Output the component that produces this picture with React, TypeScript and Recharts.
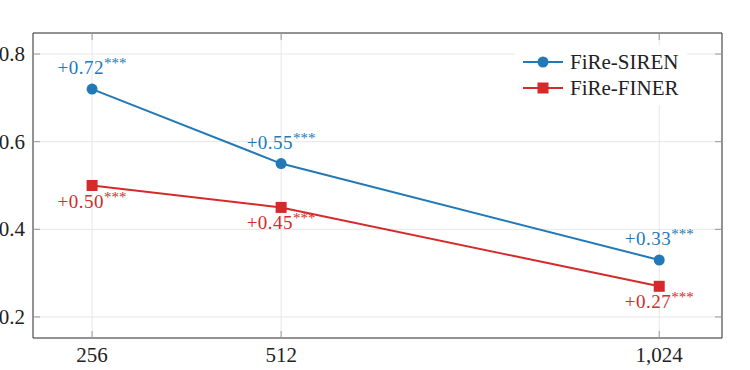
import React from 'react';
import { LineChart, Line, XAxis, YAxis, CartesianGrid, Legend, LabelList } from 'recharts';

// values
const sizes = [256, 512, 1024];
const sizeLabels = ['256', '512', '1,024'];
const sirenScores = [0.72, 0.55, 0.33];
const finerScores = [0.5, 0.45, 0.27];
const sirenLabels = ['+0.72', '+0.55', '+0.33'];
const finerLabels = ['+0.50', '+0.45', '+0.27'];
const yTicks = [0.2, 0.4, 0.6, 0.8];

const BLUE = '#2379b5';
const RED = '#d62a2a';
const FONT = '"Liberation Serif", "DejaVu Serif", serif';
const X_DOMAIN = [176, 1109];
const Y_DOMAIN = [0.152, 0.848];

const data = sizes.map((s, i) => ({
  size: s,
  siren: sirenScores[i],
  finer: finerScores[i],
  sirenLabel: sirenLabels[i],
  finerLabel: finerLabels[i],
}));

const BottomTick = (props: any) => {
  const { x, y, index } = props;
  return (
    <g>
      <line x1={x} x2={x} y1={y} y2={y - 7} stroke="#999" />
      <text x={x} y={y + 24} textAnchor="middle" fill="#222" fontFamily={FONT} fontSize={21}>
        {sizeLabels[index]}
      </text>
    </g>
  );
};

const TopTick = (props: any) => (
  <line x1={props.x} x2={props.x} y1={props.y} y2={props.y + 7} stroke="#999" />
);

const LeftTick = (props: any) => {
  const { x, y, payload } = props;
  return (
    <g>
      <line x1={x} x2={x + 7} y1={y} y2={y} stroke="#999" />
      <text x={x - 8} y={y + 7} textAnchor="end" fill="#222" fontFamily={FONT} fontSize={21}>
        {payload.value.toFixed(1)}
      </text>
    </g>
  );
};

const RightTick = (props: any) => (
  <line x1={props.x} x2={props.x - 7} y1={props.y} y2={props.y} stroke="#999" />
);

const starLabel = (color: string, offset: number) => (props: any) => {
  const { x, y, value } = props;
  return (
    <text x={x} y={y + offset} textAnchor="middle" fill={color} fontFamily={FONT} fontSize={19} letterSpacing={0.5}>
      {value}
      <tspan dy={-6} fontSize={15} letterSpacing={0}>***</tspan>
    </text>
  );
};

const SquareDot = (props: any) => {
  const { cx, cy, index } = props;
  return <rect key={index} x={cx - 5.5} y={cy - 5.5} width={11} height={11} fill={RED} />;
};

const legendItems = [
  { name: 'FiRe-SIREN', color: BLUE, square: false },
  { name: 'FiRe-FINER', color: RED, square: true },
];

const renderLegend = () => (
  <div style={{ background: '#fff', padding: '4px 8px 4px 8px', fontFamily: FONT, fontSize: 21, color: '#222' }}>
    {legendItems.map((item) => (
      <div key={item.name} style={{ display: 'flex', alignItems: 'center', height: 26 }}>
        <svg width={40} height={14}>
          <line x1={0} x2={40} y1={7} y2={7} stroke={item.color} strokeWidth={2} />
          {item.square ? (
            <rect x={14.5} y={1.5} width={11} height={11} fill={item.color} />
          ) : (
            <circle cx={20} cy={7} r={5.5} fill={item.color} />
          )}
        </svg>
        <span style={{ marginLeft: 7 }}>{item.name}</span>
      </div>
    ))}
  </div>
);

export default function App() {
  return (
    <div style={{ position: 'absolute', left: 0, top: 0, width: 750, height: 370, background: '#fff' }}>
      <LineChart width={750} height={370} data={data} margin={{ top: 0, right: 0, bottom: 0, left: 0 }}>
        <CartesianGrid stroke="#e6e6e6" />
        <XAxis
          dataKey="size"
          type="number"
          domain={X_DOMAIN}
          ticks={sizes}
          interval={0}
          height={32}
          tickSize={0}
          tickMargin={0}
          tick={<BottomTick />}
          axisLine={{ stroke: '#333' }}
          allowDataOverflow
        />
        <XAxis
          xAxisId="top"
          orientation="top"
          dataKey="size"
          type="number"
          domain={X_DOMAIN}
          ticks={sizes}
          interval={0}
          height={33}
          tickSize={0}
          tickMargin={0}
          tick={<TopTick />}
          axisLine={{ stroke: '#333' }}
          allowDataOverflow
        />
        <YAxis
          type="number"
          domain={Y_DOMAIN}
          ticks={yTicks}
          interval={0}
          width={33}
          tickSize={0}
          tickMargin={0}
          tick={<LeftTick />}
          axisLine={{ stroke: '#333' }}
          allowDataOverflow
        />
        <YAxis
          yAxisId="right"
          orientation="right"
          type="number"
          domain={Y_DOMAIN}
          ticks={yTicks}
          interval={0}
          width={28}
          tickSize={0}
          tickMargin={0}
          tick={<RightTick />}
          axisLine={{ stroke: '#333' }}
          allowDataOverflow
        />
        <Legend
          layout="vertical"
          align="center"
          verticalAlign="middle"
          content={renderLegend}
          wrapperStyle={{ top: 45, left: 515, width: 'auto' }}
        />
        <Line
          dataKey="siren"
          stroke={BLUE}
          strokeWidth={2}
          dot={{ r: 5.5, fill: BLUE, stroke: BLUE, strokeWidth: 0 }}
          isAnimationActive={false}
        >
          <LabelList dataKey="sirenLabel" content={starLabel(BLUE, -15)} />
        </Line>
        <Line
          dataKey="finer"
          stroke={RED}
          strokeWidth={2}
          dot={<SquareDot />}
          isAnimationActive={false}
        >
          <LabelList dataKey="finerLabel" content={starLabel(RED, 22)} />
        </Line>
      </LineChart>
    </div>
  );
}
